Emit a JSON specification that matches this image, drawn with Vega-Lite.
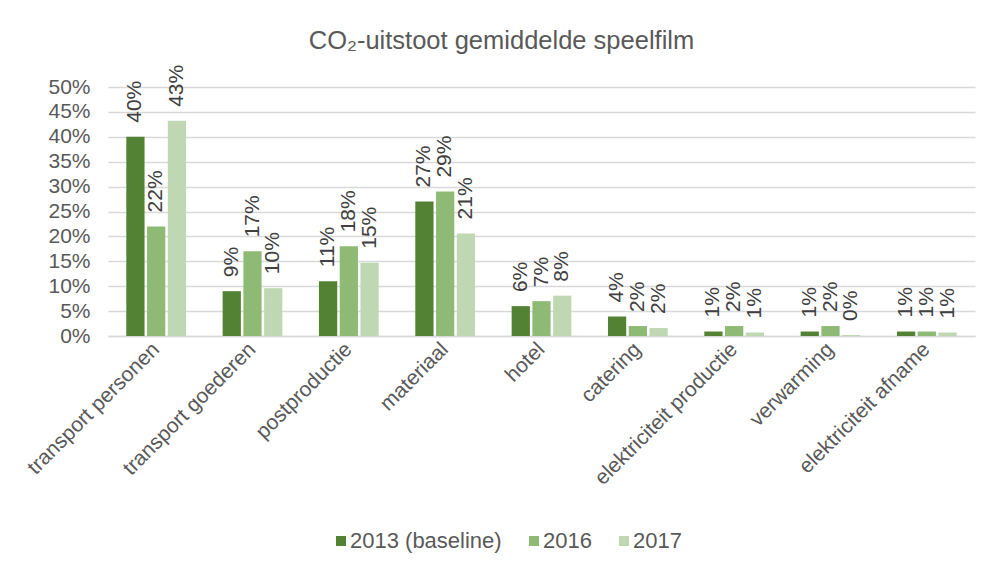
{
  "$schema": "https://vega.github.io/schema/vega-lite/v6.json",
  "width": 867,
  "height": 249,
  "autosize": {"type": "none"},
  "padding": {"left": 108, "top": 87, "right": 27, "bottom": 236},
  "background": "white",
  "title": {
    "text": "CO₂-uitstoot gemiddelde speelfilm",
    "font": "Liberation Sans",
    "fontSize": 25.5,
    "fontWeight": "normal",
    "color": "#595959",
    "anchor": "middle",
    "frame": "group",
    "dx": -40,
    "offset": 10
  },
  "config": {
    "view": {"stroke": null},
    "font": "Liberation Sans"
  },
  "data": {
    "values": [
      {"cat": "transport personen", "year": "2013 (baseline)", "v": 0.40},
      {"cat": "transport personen", "year": "2016", "v": 0.22},
      {"cat": "transport personen", "year": "2017", "v": 0.432},
      {"cat": "transport goederen", "year": "2013 (baseline)", "v": 0.09},
      {"cat": "transport goederen", "year": "2016", "v": 0.17},
      {"cat": "transport goederen", "year": "2017", "v": 0.096},
      {"cat": "postproductie", "year": "2013 (baseline)", "v": 0.11},
      {"cat": "postproductie", "year": "2016", "v": 0.18},
      {"cat": "postproductie", "year": "2017", "v": 0.147},
      {"cat": "materiaal", "year": "2013 (baseline)", "v": 0.27},
      {"cat": "materiaal", "year": "2016", "v": 0.29},
      {"cat": "materiaal", "year": "2017", "v": 0.206},
      {"cat": "hotel", "year": "2013 (baseline)", "v": 0.06},
      {"cat": "hotel", "year": "2016", "v": 0.07},
      {"cat": "hotel", "year": "2017", "v": 0.081},
      {"cat": "catering", "year": "2013 (baseline)", "v": 0.039},
      {"cat": "catering", "year": "2016", "v": 0.02},
      {"cat": "catering", "year": "2017", "v": 0.016},
      {"cat": "elektriciteit productie", "year": "2013 (baseline)", "v": 0.009},
      {"cat": "elektriciteit productie", "year": "2016", "v": 0.02},
      {"cat": "elektriciteit productie", "year": "2017", "v": 0.007},
      {"cat": "verwarming", "year": "2013 (baseline)", "v": 0.009},
      {"cat": "verwarming", "year": "2016", "v": 0.02},
      {"cat": "verwarming", "year": "2017", "v": 0.002},
      {"cat": "elektriciteit afname", "year": "2013 (baseline)", "v": 0.009},
      {"cat": "elektriciteit afname", "year": "2016", "v": 0.009},
      {"cat": "elektriciteit afname", "year": "2017", "v": 0.007}
    ]
  },
  "encoding": {
    "x": {
      "field": "cat",
      "type": "nominal",
      "sort": null,
      "scale": {"paddingInner": 0.38, "paddingOuter": 0.19},
      "axis": {
        "title": null,
        "labelAngle": -45,
        "labelAlign": "right",
        "labelBaseline": "middle",
        "labelFontSize": 21,
        "labelColor": "#595959",
        "labelPadding": 10,
        "ticks": false,
        "domainColor": "#D9D9D9",
        "domainWidth": 1.5,
        "labelLimit": 300
      }
    },
    "xOffset": {"field": "year", "type": "nominal", "scale": {"paddingInner": 0.12}},
    "y": {
      "field": "v",
      "type": "quantitative",
      "scale": {"domain": [0, 0.5]},
      "axis": {
        "title": null,
        "format": ".0%",
        "values": [0, 0.05, 0.1, 0.15, 0.2, 0.25, 0.3, 0.35, 0.4, 0.45, 0.5],
        "labelFontSize": 21,
        "labelColor": "#595959",
        "labelPadding": 18,
        "ticks": false,
        "domain": false,
        "gridColor": "#D9D9D9",
        "gridWidth": 1.5
      }
    }
  },
  "layer": [
    {
      "mark": {"type": "bar"},
      "encoding": {
        "color": {
          "field": "year",
          "type": "nominal",
          "scale": {"domain": ["2013 (baseline)", "2016", "2017"], "range": ["#548235", "#8FBA76", "#BFD8B3"]},
          "legend": {
            "title": null,
            "orient": "none",
            "direction": "horizontal",
            "legendX": 222,
            "legendY": 443,
            "symbolType": "square",
            "symbolSize": 100,
            "symbolStrokeWidth": 0,
            "labelFontSize": 22,
            "labelColor": "#595959",
            "columnPadding": 21,
            "labelOffset": -2
          }
        }
      }
    },
    {
      "mark": {"type": "text", "angle": 270, "align": "left", "baseline": "middle", "dx": 14, "fontSize": 21, "color": "#404040"},
      "encoding": {
        "text": {"field": "v", "type": "quantitative", "format": ".0%"}
      }
    }
  ]
}
